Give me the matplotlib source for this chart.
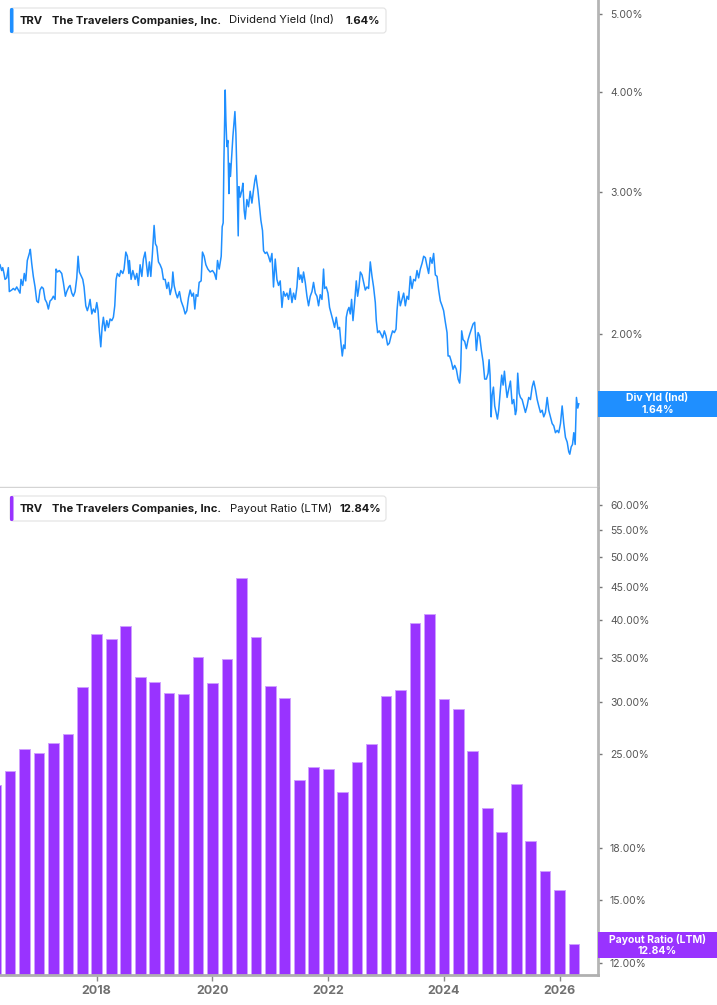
import matplotlib
matplotlib.use("Agg")
import matplotlib.pyplot as plt
from matplotlib.patches import FancyBboxPatch
from matplotlib.ticker import NullLocator

plt.rcParams['font.family'] = ['Inter', 'DejaVu Sans']

# ---------------- data ----------------
ticker = "TRV"
company = "The Travelers Companies, Inc."
top_metric = "Dividend Yield (Ind)"
top_last = "1.64%"
top_tag = "Div Yld (Ind)"
bot_metric = "Payout Ratio (LTM)"
bot_last = "12.84%"

yld_dates = [
    2016.327, 2016.356, 2016.374, 2016.396, 2016.414, 2016.443, 2016.471, 2016.488, 2016.529, 2016.557,
    2016.587, 2016.616, 2016.644, 2016.673, 2016.690, 2016.720, 2016.747, 2016.772, 2016.799, 2016.834,
    2016.851, 2016.875, 2016.903, 2016.933, 2016.962, 2016.990, 2017.019, 2017.048, 2017.076, 2017.106,
    2017.135, 2017.163, 2017.192, 2017.221, 2017.249, 2017.279, 2017.296, 2017.318, 2017.353, 2017.394,
    2017.422, 2017.457, 2017.481, 2017.516, 2017.538, 2017.568, 2017.595, 2017.625, 2017.654, 2017.677,
    2017.699, 2017.723, 2017.758, 2017.780, 2017.810, 2017.837, 2017.862, 2017.884, 2017.914, 2017.941,
    2017.971, 2018.000, 2018.022, 2018.045, 2018.069, 2018.092, 2018.114, 2018.144, 2018.173, 2018.201,
    2018.230, 2018.260, 2018.287, 2018.311, 2018.334, 2018.356, 2018.391, 2018.415, 2018.450, 2018.472,
    2018.502, 2018.529, 2018.554, 2018.564, 2018.593, 2018.623, 2018.663, 2018.692, 2018.720, 2018.749,
    2018.779, 2018.806, 2018.836, 2018.865, 2018.882, 2018.910, 2018.934, 2018.962, 2018.991, 2019.014,
    2019.038, 2019.066, 2019.095, 2019.125, 2019.152, 2019.182, 2019.211, 2019.239, 2019.268, 2019.298,
    2019.315, 2019.337, 2019.367, 2019.394, 2019.429, 2019.458, 2019.498, 2019.528, 2019.557, 2019.585,
    2019.614, 2019.644, 2019.671, 2019.695, 2019.718, 2019.747, 2019.770, 2019.804, 2019.827, 2019.856,
    2019.886, 2019.920, 2019.960, 2020.000, 2020.035, 2020.064, 2020.087, 2020.116, 2020.151, 2020.168,
    2020.185, 2020.197, 2020.208, 2020.220, 2020.232, 2020.249, 2020.266, 2020.284, 2020.294, 2020.311,
    2020.336, 2020.353, 2020.370, 2020.388, 2020.405, 2020.422, 2020.445, 2020.457, 2020.479, 2020.509,
    2020.526, 2020.548, 2020.566, 2020.595, 2020.623, 2020.652, 2020.682, 2020.709, 2020.734, 2020.751,
    2020.768, 2020.785, 2020.813, 2020.837, 2020.865, 2020.883, 2020.912, 2020.941, 2020.969, 2020.998,
    2021.028, 2021.055, 2021.085, 2021.114, 2021.142, 2021.171, 2021.201, 2021.228, 2021.258, 2021.287,
    2021.315, 2021.344, 2021.374, 2021.401, 2021.431, 2021.460, 2021.483, 2021.505, 2021.529, 2021.552,
    2021.574, 2021.604, 2021.633, 2021.661, 2021.690, 2021.720, 2021.747, 2021.777, 2021.806, 2021.834,
    2021.863, 2021.893, 2021.920, 2021.938, 2021.967, 2021.997, 2022.024, 2022.054, 2022.083, 2022.111,
    2022.140, 2022.170, 2022.197, 2022.221, 2022.244, 2022.267, 2022.291, 2022.313, 2022.336, 2022.360,
    2022.382, 2022.405, 2022.429, 2022.457, 2022.486, 2022.509, 2022.533, 2022.556, 2022.585, 2022.613,
    2022.642, 2022.671, 2022.699, 2022.728, 2022.758, 2022.785, 2022.815, 2022.832, 2022.855, 2022.884,
    2022.914, 2022.941, 2022.971, 2023.000, 2023.028, 2023.057, 2023.087, 2023.114, 2023.144, 2023.173,
    2023.190, 2023.218, 2023.247, 2023.277, 2023.305, 2023.334, 2023.363, 2023.391, 2023.420, 2023.450,
    2023.477, 2023.507, 2023.536, 2023.564, 2023.593, 2023.623, 2023.651, 2023.680, 2023.709, 2023.737,
    2023.766, 2023.796, 2023.823, 2023.853, 2023.882, 2023.910, 2023.939, 2023.969, 2023.996, 2024.026,
    2024.055, 2024.073, 2024.100, 2024.130, 2024.159, 2024.187, 2024.216, 2024.246, 2024.273, 2024.291,
    2024.308, 2024.332, 2024.360, 2024.389, 2024.419, 2024.446, 2024.476, 2024.505, 2024.533, 2024.562,
    2024.592, 2024.619, 2024.649, 2024.678, 2024.706, 2024.735, 2024.765, 2024.782, 2024.799, 2024.817,
    2024.834, 2024.857, 2024.879, 2024.903, 2024.926, 2024.948, 2024.978, 2025.000, 2025.024, 2025.047,
    2025.069, 2025.093, 2025.121, 2025.151, 2025.180, 2025.208, 2025.237, 2025.254, 2025.277, 2025.301,
    2025.324, 2025.353, 2025.381, 2025.410, 2025.440, 2025.467, 2025.497, 2025.526, 2025.554, 2025.583,
    2025.613, 2025.640, 2025.670, 2025.699, 2025.727, 2025.756, 2025.786, 2025.813, 2025.843, 2025.872,
    2025.900, 2025.929, 2025.959, 2025.986, 2026.016, 2026.045, 2026.073, 2026.102, 2026.132, 2026.159,
    2026.177, 2026.201, 2026.224, 2026.246, 2026.270, 2026.292, 2026.315, 2026.332,
]

yld_values = [
    2.44, 2.40, 2.42, 2.38, 2.34, 2.35, 2.42, 2.26, 2.27, 2.28,
    2.27, 2.29, 2.27, 2.25, 2.34, 2.30, 2.38, 2.33, 2.47, 2.52,
    2.55, 2.45, 2.36, 2.29, 2.20, 2.19, 2.27, 2.29, 2.28, 2.21,
    2.19, 2.15, 2.20, 2.21, 2.23, 2.21, 2.41, 2.39, 2.40, 2.38,
    2.32, 2.23, 2.26, 2.29, 2.30, 2.25, 2.23, 2.26, 2.35, 2.50,
    2.39, 2.37, 2.34, 2.29, 2.17, 2.14, 2.17, 2.21, 2.12, 2.15,
    2.13, 2.19, 2.14, 2.02, 1.93, 2.04, 2.10, 2.02, 2.08, 2.04,
    2.09, 2.08, 2.10, 2.17, 2.34, 2.38, 2.36, 2.40, 2.38, 2.41,
    2.53, 2.50, 2.38, 2.47, 2.34, 2.40, 2.34, 2.38, 2.30, 2.44,
    2.36, 2.48, 2.53, 2.42, 2.36, 2.46, 2.36, 2.52, 2.73, 2.59,
    2.57, 2.46, 2.44, 2.41, 2.34, 2.34, 2.28, 2.32, 2.24, 2.29,
    2.39, 2.30, 2.25, 2.22, 2.26, 2.20, 2.16, 2.12, 2.14, 2.22,
    2.27, 2.23, 2.25, 2.15, 2.24, 2.23, 2.32, 2.33, 2.53, 2.50,
    2.44, 2.41, 2.39, 2.40, 2.38, 2.34, 2.47, 2.41, 2.50, 2.72,
    2.75, 3.26, 3.59, 4.02, 3.69, 3.42, 3.48, 2.99, 3.26, 3.14,
    3.36, 3.52, 3.65, 3.78, 3.55, 3.17, 2.65, 3.05, 2.96, 3.02,
    3.08, 2.85, 2.78, 2.94, 2.88, 3.01, 2.91, 3.02, 3.11, 3.15,
    3.08, 3.02, 2.88, 2.77, 2.69, 2.54, 2.52, 2.53, 2.50, 2.46,
    2.52, 2.29, 2.48, 2.34, 2.30, 2.33, 2.16, 2.26, 2.23, 2.25,
    2.21, 2.28, 2.19, 2.25, 2.21, 2.29, 2.42, 2.34, 2.37, 2.32,
    2.39, 2.32, 2.23, 2.17, 2.23, 2.26, 2.32, 2.25, 2.23, 2.17,
    2.24, 2.21, 2.41, 2.28, 2.29, 2.25, 2.16, 2.12, 2.08, 2.04,
    2.10, 2.03, 2.04, 1.95, 1.88, 1.94, 1.92, 2.10, 2.14, 2.16,
    2.12, 2.21, 2.08, 2.19, 2.33, 2.23, 2.29, 2.39, 2.37, 2.32,
    2.27, 2.29, 2.28, 2.46, 2.36, 2.29, 2.19, 2.08, 2.01, 2.02,
    2.00, 1.98, 2.02, 1.99, 1.94, 1.95, 1.99, 2.02, 2.01, 2.03,
    2.14, 2.26, 2.17, 2.21, 2.25, 2.17, 2.23, 2.21, 2.36, 2.28,
    2.34, 2.33, 2.40, 2.35, 2.41, 2.45, 2.50, 2.49, 2.43, 2.38,
    2.49, 2.45, 2.52, 2.37, 2.36, 2.27, 2.20, 2.17, 2.14, 2.07,
    2.01, 1.88, 1.88, 1.85, 1.81, 1.83, 1.81, 1.76, 1.74, 1.81,
    2.02, 1.97, 1.96, 1.92, 1.97, 2.00, 2.03, 2.06, 2.07, 1.91,
    2.01, 1.99, 1.91, 1.85, 1.76, 1.76, 1.79, 1.86, 1.78, 1.58,
    1.68, 1.72, 1.63, 1.60, 1.57, 1.61, 1.71, 1.78, 1.73, 1.80,
    1.73, 1.67, 1.71, 1.75, 1.64, 1.66, 1.59, 1.61, 1.79, 1.69,
    1.67, 1.66, 1.63, 1.60, 1.63, 1.67, 1.66, 1.72, 1.75, 1.71,
    1.66, 1.63, 1.60, 1.61, 1.58, 1.60, 1.67, 1.61, 1.58, 1.55,
    1.54, 1.51, 1.52, 1.51, 1.55, 1.63, 1.55, 1.49, 1.47, 1.43,
    1.42, 1.45, 1.46, 1.51, 1.46, 1.67, 1.62, 1.64,
]

quarters = [
    "2016-Q1", "2016-Q2", "2016-Q3", "2016-Q4",
    "2017-Q1", "2017-Q2", "2017-Q3", "2017-Q4",
    "2018-Q1", "2018-Q2", "2018-Q3", "2018-Q4",
    "2019-Q1", "2019-Q2", "2019-Q3", "2019-Q4",
    "2020-Q1", "2020-Q2", "2020-Q3", "2020-Q4",
    "2021-Q1", "2021-Q2", "2021-Q3", "2021-Q4",
    "2022-Q1", "2022-Q2", "2022-Q3", "2022-Q4",
    "2023-Q1", "2023-Q2", "2023-Q3", "2023-Q4",
    "2024-Q1", "2024-Q2", "2024-Q3", "2024-Q4",
    "2025-Q1", "2025-Q2", "2025-Q3", "2025-Q4",
    "2026-Q1",
]
payout = [
    22.4, 23.6, 25.5, 25.1,
    26.0, 26.8, 31.7, 38.1,
    37.5, 39.2, 32.8, 32.2,
    31.0, 30.9, 35.2, 32.1,
    34.9, 46.5, 37.7, 31.8,
    30.5, 22.8, 23.9, 23.7,
    21.9, 24.3, 25.9, 30.7,
    31.3, 39.6, 40.9, 30.3,
    29.3, 25.3, 20.7, 19.0,
    22.5, 18.4, 16.6, 15.5,
    12.84,
]

top_ticks = [2, 3, 4, 5]
bot_ticks = [12, 15, 18, 25, 30, 35, 40, 45, 50, 55, 60]
year_ticks = [2018, 2020, 2022, 2024, 2026]

# ---------------- styling ----------------
BLUE = "#1f8fff"
PURPLE = "#9933ff"
W, H = 717, 1005
XLIM = (2016.327, 2026.656)

n = min(len(yld_dates), len(yld_values))
qx = [int(q[:4]) + int(q[-1]) * 0.25 for q in quarters]

fig = plt.figure(figsize=(W / 100, H / 100), dpi=100)
fig.patch.set_facecolor("white")


def px_axes(x0, y0, x1, y1):
    return fig.add_axes([x0 / W, 1 - y1 / H, (x1 - x0) / W, (y1 - y0) / H])


ax1 = px_axes(0, 0, 597.5, 487)
ax2 = px_axes(0, 488, 597.5, 975)

# top: dividend yield line
ax1.plot(yld_dates[:n], yld_values[:n], color=BLUE, lw=1.1, solid_joinstyle="round")
ax1.set_yscale("log")
ax1.set_ylim(1.293, 5.199)
ax1.set_xlim(*XLIM)

# bottom: payout ratio bars
ax2.bar(qx, payout, width=0.185, color=PURPLE, edgecolor="#cf9fff",
        linewidth=0.7, log=True, zorder=2)
ax2.set_yscale("log")
ax2.set_ylim(11.51, 63.7)
ax2.set_xlim(*XLIM)

for ax, ticks in ((ax1, top_ticks), (ax2, bot_ticks)):
    ax.set_facecolor("white")
    ax.yaxis.tick_right()
    ax.set_yticks(ticks)
    ax.set_yticklabels([f"{t:.2f}%" for t in ticks])
    ax.yaxis.set_minor_locator(NullLocator())
    ax.tick_params(axis="y", which="major", direction="out", length=3, width=1,
                   color="#777777", pad=6, labelsize=7.5, labelcolor="#555555")
    ax.spines["left"].set_visible(False)
    ax.spines["top"].set_visible(False)
    ax.spines["right"].set_color("#b5b5b5")
    ax.spines["right"].set_linewidth(2)

ax1.spines["bottom"].set_color("#d4d4d4")
ax1.spines["bottom"].set_linewidth(1)
ax1.set_xticks([])

ax2.spines["bottom"].set_color("#b0b0b0")
ax2.spines["bottom"].set_linewidth(2)
ax2.set_xticks(year_ticks)
ax2.set_xticklabels([str(y) for y in year_ticks])
ax2.xaxis.set_minor_locator(NullLocator())
ax2.tick_params(axis="x", direction="out", length=4, width=1, color="#888888",
                pad=3, labelsize=9, labelcolor="#707070")
for lab in ax2.get_xticklabels():
    lab.set_fontweight("bold")


# ---------------- annotation boxes ----------------
def box(x0, y0, x1, y1, fc, ec="none", lw=0, r=3):
    p = FancyBboxPatch((x0 / 100, (H - y1) / 100), (x1 - x0) / 100, (y1 - y0) / 100,
                       boxstyle=f"round,pad=0,rounding_size={r / 100}",
                       transform=fig.dpi_scale_trans, fc=fc, ec=ec, lw=lw)
    fig.add_artist(p)


def txt(x, y, s, **kw):
    kw.setdefault("va", "center")
    fig.text(x / W, 1 - y / H, s, **kw)


def legend(y0, y1, color, metric, last, mx, lx):
    box(10, y0, 386, y1, "white", "#e2e2e2", 0.8, 3)
    box(10, y0, 13.5, y1, color, r=1.5)
    yc = (y0 + y1) / 2
    txt(20, yc, ticker, fontsize=8.1, fontweight="bold", color="#1a1a1a")
    txt(52, yc, company, fontsize=8.1, fontweight="bold", color="#1a1a1a")
    txt(mx, yc, metric, fontsize=8.1, color="#1a1a1a")
    txt(lx, yc, last, fontsize=8.1, fontweight="bold", color="#1a1a1a")


legend(8, 33, BLUE, top_metric, top_last, 229, 345)
legend(496, 521, PURPLE, bot_metric, bot_last, 230, 340)

# right-hand value tags
box(598, 391, 717, 417, BLUE, r=0)
txt(657.5, 398.5, top_tag, ha="center", fontsize=7.5, fontweight="bold", color="white")
txt(657.5, 409.5, top_last, ha="center", fontsize=7.5, fontweight="bold", color="white")

box(598, 932, 717, 958, PURPLE, r=0)
txt(657.5, 939.5, bot_metric, ha="center", fontsize=7.5, fontweight="bold", color="white")
txt(657.5, 950.5, bot_last, ha="center", fontsize=7.5, fontweight="bold", color="white")

fig.savefig("out.png", dpi=100, facecolor="white")
